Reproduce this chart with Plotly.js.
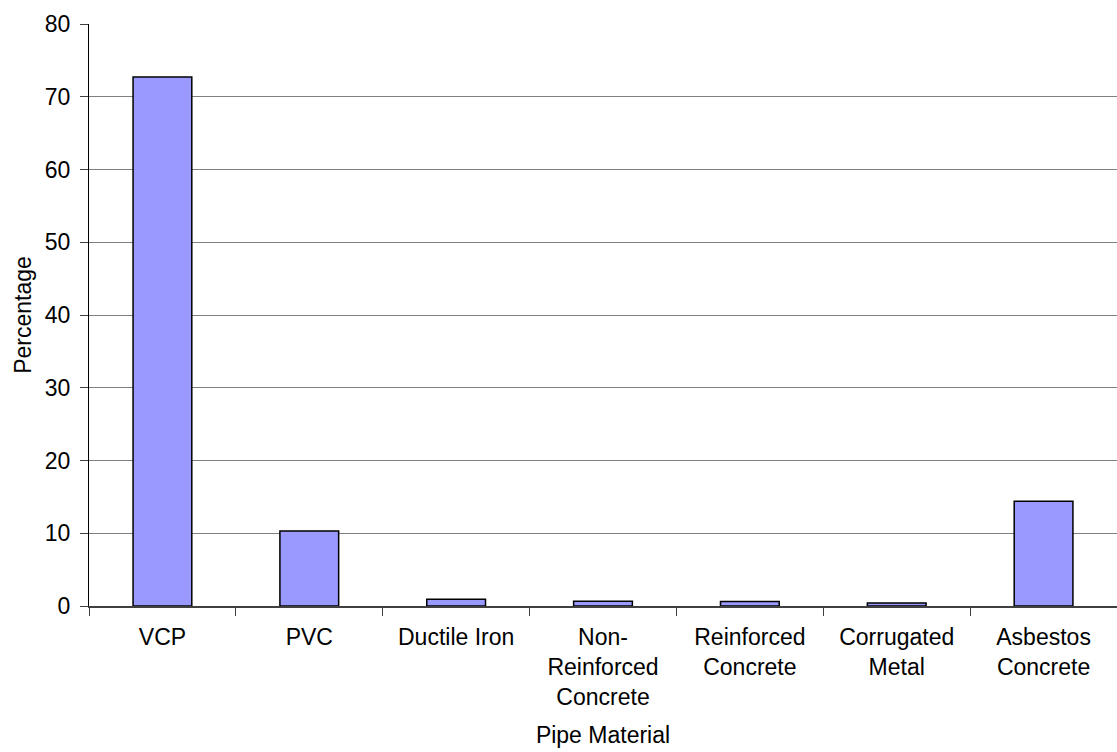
<!DOCTYPE html>
<html>
<head>
<meta charset="utf-8">
<script src="https://cdn.plot.ly/plotly-3.0.1.min.js"></script>
<style>html,body{margin:0;padding:0;background:#fff;}#chart{width:1117px;height:752px;}</style>
</head>
<body>
<div id="chart"></div>
<script>
const categories = ["VCP", "PVC", "Ductile Iron", "Non-<br>Reinforced<br>Concrete", "Reinforced<br>Concrete", "Corrugated<br>Metal", "Asbestos<br>Concrete"];
const percentages = [72.7, 10.3, 0.92, 0.64, 0.62, 0.42, 14.4];
const yTicks = [0, 10, 20, 30, 40, 50, 60, 70, 80];

const trace = {
  type: "bar",
  x: categories,
  y: percentages,
  marker: {color: "#9999FF", line: {color: "#000000", width: 1.5}},
  hoverinfo: "x+y"
};

const layout = {
  width: 1117,
  height: 752,
  margin: {l: 89, r: 0, t: 24, b: 146, pad: 0},
  paper_bgcolor: "#ffffff",
  plot_bgcolor: "#ffffff",
  font: {family: "Liberation Sans, Arial, sans-serif", size: 23, color: "#000000"},
  bargap: 0.6,
  showlegend: false,
  xaxis: {
    type: "category",
    tickson: "boundaries",
    ticks: "outside",
    ticklen: 8,
    tickcolor: "#404040",
    ticklabelstandoff: 10,
    showline: true,
    linecolor: "#404040",
    linewidth: 1.5,
    showgrid: false,
    tickfont: {size: 23},
    title: {text: "Pipe Material", font: {size: 23}, standoff: 18},
    automargin: false
  },
  yaxis: {
    range: [0, 80],
    tickvals: yTicks,
    ticks: "outside",
    ticklen: 8,
    tickcolor: "#404040",
    ticklabelstandoff: 5,
    showline: true,
    linecolor: "#000000",
    linewidth: 1,
    showgrid: true,
    gridcolor: "#808080",
    gridwidth: 1,
    zeroline: false,
    tickfont: {size: 23},
    title: {text: "Percentage", font: {size: 23}, standoff: 6},
    automargin: false
  }
};

Plotly.newPlot("chart", [trace], layout, {displayModeBar: false, staticPlot: true});
</script>
</body>
</html>
